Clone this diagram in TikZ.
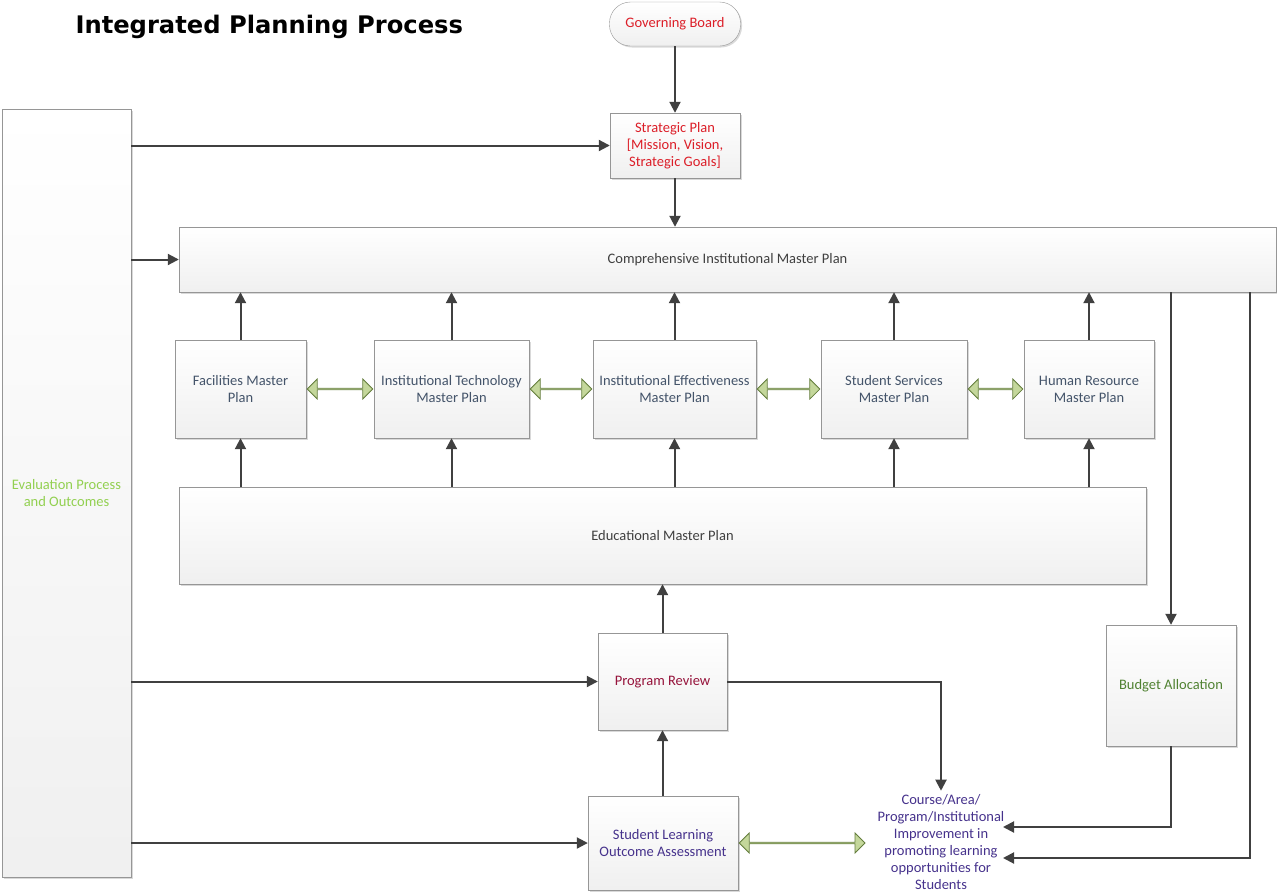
\documentclass[tikz,border=0pt]{standalone}
\usepackage{fontspec}
\setmainfont{Carlito}
\newfontfamily\titlefont{DejaVu Sans}
\usetikzlibrary{shapes,arrows.meta,shadows,calc}

\definecolor{boxline}{RGB}{150,150,150}
\definecolor{plantext}{RGB}{68,84,106}
\definecolor{redtext}{RGB}{220,30,40}
\definecolor{reviewtext}{RGB}{150,20,60}
\definecolor{purpletext}{RGB}{70,50,140}
\definecolor{budgettext}{RGB}{80,130,50}
\definecolor{evaltext}{RGB}{146,208,80}
\definecolor{arrowfill}{RGB}{196,215,155}
\definecolor{arrowline}{RGB}{100,125,60}
\definecolor{linkgray}{RGB}{64,64,64}

\tikzset{
  planbox/.style={draw=boxline, top color=white, bottom color=gray!12,
    drop shadow={opacity=0.3, shadow xshift=1.5pt, shadow yshift=-1.5pt},
    align=center, font=\fontsize{14.5}{17}\selectfont, text=plantext, inner sep=2pt},
  link/.style={draw=linkgray, line width=2pt, -{Triangle[length=11pt,width=11pt]}},
  twoway/.style={double arrow, draw=arrowline, fill=arrowfill, line width=0.8pt,
    minimum width=20pt, double arrow head extend=5pt, inner sep=0pt}
}
% green two-headed arrow between two points
\newcommand\twoway[2]{\path let \p1=($(#2)-(#1)$) in
  node[twoway, minimum height=\x1-2pt] at ($(#1)!0.5!(#2)$) {};}

\begin{document}
\begin{tikzpicture}[x=1pt,y=-1pt]
    \useasboundingbox (0,0) rectangle (1277,892);
    \node[anchor=west, font=\titlefont\bfseries\fontsize{24.2}{28}\selectfont] (title) at (72,27) {Integrated Planning Process};

    % top of the process
    \node[planbox, rounded corners=21pt, minimum width=131pt, minimum height=44pt, text=redtext] (gov) at (675,24) {Governing Board};
    \node[planbox, minimum width=130pt, minimum height=65pt, text=redtext] (strat) at (675,145.5) {Strategic Plan\\{[}Mission, Vision,\\Strategic Goals{]}};
    \node[planbox, minimum width=129pt, minimum height=768pt, text=evaltext] (eval) at (66.5,493) {Evaluation Process\\and Outcomes};
    \node[planbox, minimum width=1097pt, minimum height=65pt, text=linkgray] (comp) at (727.5,259.5) {Comprehensive Institutional Master Plan};

    % master plans
    \node[planbox, minimum width=131pt, minimum height=98pt] (fac) at (240.5,389) {Facilities Master\\Plan};
    \node[planbox, minimum width=155pt, minimum height=98pt] (tech) at (451.5,389) {Institutional Technology\\Master Plan};
    \node[planbox, minimum width=163pt, minimum height=98pt] (eff) at (674.5,389) {Institutional Effectiveness\\Master Plan};
    \node[planbox, minimum width=146pt, minimum height=98pt] (serv) at (894,389) {Student Services\\Master Plan};
    \node[planbox, minimum width=130pt, minimum height=98pt] (hr) at (1089,389) {Human Resource\\Master Plan};
    \node[planbox, minimum width=967pt, minimum height=97pt, text=linkgray] (edu) at (662.5,535.5) {Educational Master Plan};

    % lower part
    \node[planbox, minimum width=129pt, minimum height=97pt, text=reviewtext] (review) at (662.5,681.5) {Program Review};
    \node[planbox, minimum width=130pt, minimum height=121pt, text=budgettext] (budget) at (1171,685.5) {Budget Allocation};
    \node[planbox, minimum width=150pt, minimum height=94pt, text=purpletext] (sloa) at (663,843) {Student Learning\\Outcome Assessment};
    \node[align=center, font=\fontsize{14.5}{17}\selectfont, text=purpletext, inner sep=0pt] (course) at (941,842.5)
      {Course/Area/\\Program/Institutional\\Improvement in\\promoting learning\\opportunities for\\Students};
    \coordinate (courseleft) at (866,843);
    \coordinate (in1) at (1003,827);
    \coordinate (in2) at (1003,858);
    \coordinate (tap) at (1250,292);

    % connectors
    \draw[link] (gov) -- (strat);
    \draw[link] (strat.south) -- (strat.south |- comp.north);
    \draw[link] (eval.east |- strat.west) -- (strat.west);
    \draw[link] (eval.east |- comp.west) -- (comp.west);
    \draw[link] (eval.east |- review.west) -- (review.west);
    \draw[link] (eval.east |- sloa.west) -- (sloa.west);
    \foreach \p in {fac,tech,eff,serv,hr} {
      \draw[link] (\p.north) -- (\p.north |- comp.south);
      \draw[link] (edu.north -| \p.south) -- (\p.south);
    }
    \draw[link] (review.north) -- (review.north |- edu.south);
    \draw[link] (review.south |- sloa.north) -- (review.south);
    \draw[link] (review.east) -| ([yshift=4pt]course.north);
    \draw[link] (comp.south -| budget.north) -- (budget.north);
    \draw[link] (budget.south) |- (in1);
    \draw[link] (tap) |- (in2);

    \twoway{fac.east}{tech.west}
    \twoway{tech.east}{eff.west}
    \twoway{eff.east}{serv.west}
    \twoway{serv.east}{hr.west}
    \twoway{sloa.east}{courseleft}
\end{tikzpicture}
\end{document}
